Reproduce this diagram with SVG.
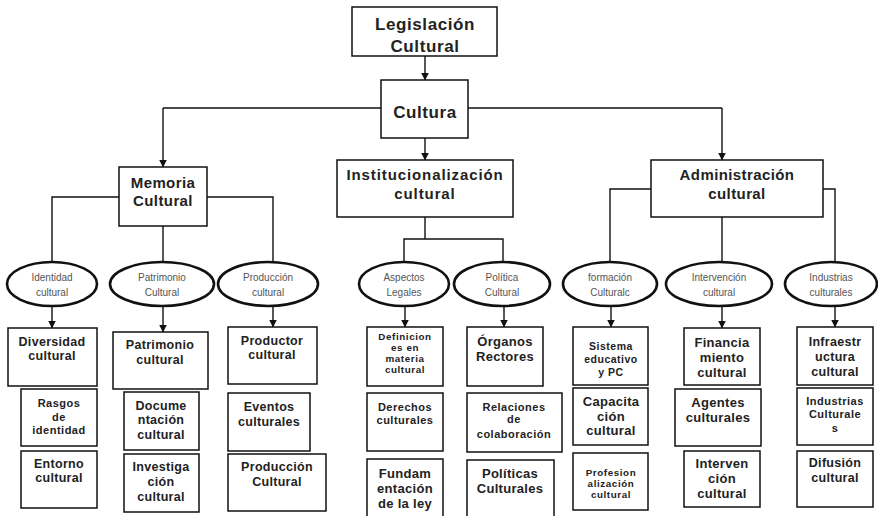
<svg xmlns="http://www.w3.org/2000/svg" width="878" height="516" viewBox="0 0 878 516">
<defs>
<marker id="ah" markerUnits="userSpaceOnUse" markerWidth="8" markerHeight="9" refX="7.5" refY="4" orient="auto">
<path d="M0,0 L8,4 L0,8 Z" fill="#111"/>
</marker>
<style>
.bx{fill:#fff;stroke:#111;stroke-width:1.5}
.el{fill:#fff;stroke:#111;stroke-width:2.6}
.cn{fill:none;stroke:#111;stroke-width:1.4}
.ar{fill:none;stroke:#111;stroke-width:1.4;marker-end:url(#ah)}
text{font-family:"Liberation Sans",Arial,sans-serif;text-anchor:middle;fill:#222}
.t1{font-size:17px;font-weight:bold;letter-spacing:0.6px}
.t2{font-size:15px;font-weight:bold;letter-spacing:0.4px}
.t2w{font-size:15px;font-weight:bold;letter-spacing:0.9px}
.e{font-size:10px;fill:#555}
.b{font-size:12.5px;font-weight:bold;letter-spacing:0.3px}
.s{font-size:11px;font-weight:bold;letter-spacing:0.5px}
.xs{font-size:10.5px;font-weight:bold;letter-spacing:0.5px}
.xxs{font-size:9.8px;font-weight:bold;letter-spacing:0.6px}
.m{font-size:13px;font-weight:bold;letter-spacing:0.3px}
</style>
</defs>
<rect width="878" height="516" fill="#fff"/>
<g id="connectors">
<path class="ar" d="M425,56 V80"/>
<path class="cn" d="M163,108 H381 M468,108 H722"/>
<path class="ar" d="M163,108 V167"/>
<path class="ar" d="M722,108 V160"/>
<path class="ar" d="M425,138 V160"/>
<path class="cn" d="M119,197 H52 V262 M207,197 H273 V262 M163,226 V262"/>
<path class="cn" d="M425,217 V239 M404,262 V239 H503 V262"/>
<path class="cn" d="M651,189 H610 V262 M823,189 H835 V262 M722,217 V262"/>
<path class="ar" d="M52,306 V328"/>
<path class="ar" d="M163,306 V332"/>
<path class="ar" d="M273,306 V327"/>
<path class="ar" d="M405,306 V327"/>
<path class="ar" d="M504,306 V327"/>
<path class="ar" d="M611,306 V327"/>
<path class="ar" d="M722,306 V328"/>
<path class="ar" d="M835,306 V327"/>
</g>
<g id="legislacion"><rect class="bx" x="352" y="7" width="145" height="49"/><text class="t1" x="425" y="30">Legislación</text><text class="t1" x="425" y="52">Cultural</text></g>
<g id="cultura"><rect class="bx" x="381" y="80" width="87" height="58"/><text class="t1" x="425" y="118">Cultura</text></g>
<g id="memoria"><rect class="bx" x="119" y="167" width="88" height="59"/><text class="t2" x="163" y="188">Memoria</text><text class="t2" x="163" y="206">Cultural</text></g>
<g id="institucionalizacion"><rect class="bx" x="337" y="160" width="176" height="57"/><text class="t2w" x="425" y="180">Institucionalización</text><text class="t2w" x="425" y="199">cultural</text></g>
<g id="administracion"><rect class="bx" x="651" y="160" width="172" height="57"/><text class="t2" x="737" y="180">Administración</text><text class="t2" x="737" y="199">cultural</text></g>

<g id="e-identidad"><ellipse class="el" cx="52" cy="284" rx="45" ry="22"/><text class="e" x="52" y="280.5">Identidad</text><text class="e" x="52" y="295.5">cultural</text></g>
<g id="e-patrimonio"><ellipse class="el" cx="162" cy="284" rx="52" ry="22"/><text class="e" x="162" y="280.5">Patrimonio</text><text class="e" x="162" y="295.5">Cultural</text></g>
<g id="e-produccion"><ellipse class="el" cx="268" cy="284" rx="50" ry="22"/><text class="e" x="268" y="280.5">Producción</text><text class="e" x="268" y="295.5">cultural</text></g>
<g id="e-aspectos"><ellipse class="el" cx="404" cy="284" rx="45" ry="22"/><text class="e" x="404" y="280.5">Aspectos</text><text class="e" x="404" y="295.5">Legales</text></g>
<g id="e-politica"><ellipse class="el" cx="502" cy="284" rx="48" ry="22"/><text class="e" x="502" y="280.5">Política</text><text class="e" x="502" y="295.5">Cultural</text></g>
<g id="e-formacion"><ellipse class="el" cx="610" cy="284" rx="47" ry="22"/><text class="e" x="610" y="280.5">formación</text><text class="e" x="610" y="295.5">Culturalc</text></g>
<g id="e-intervencion"><ellipse class="el" cx="719" cy="284" rx="53" ry="22"/><text class="e" x="719" y="280.5">Intervención</text><text class="e" x="719" y="295.5">cultural</text></g>
<g id="e-industrias"><ellipse class="el" cx="831" cy="284" rx="46" ry="22"/><text class="e" x="831" y="280.5">Industrias</text><text class="e" x="831" y="295.5">culturales</text></g>

<g id="diversidad"><rect class="bx" x="8" y="328" width="89" height="58"/><text class="b" x="52" y="346.4">Diversidad</text><text class="b" x="52" y="360.4">cultural</text></g>
<g id="rasgos"><rect class="bx" x="21" y="389" width="76" height="57"/><text class="s" x="59" y="406.9">Rasgos</text><text class="s" x="59" y="420.9">de</text><text class="s" x="59" y="433.9">identidad</text></g>
<g id="entorno"><rect class="bx" x="21" y="451" width="76" height="57"/><text class="b" x="59" y="468.4">Entorno</text><text class="b" x="59" y="482.4">cultural</text></g>

<g id="patrimonio-cultural"><rect class="bx" x="113" y="332" width="95" height="57"/><text class="b" x="160" y="349.4">Patrimonio</text><text class="b" x="160" y="364.4">cultural</text></g>
<g id="documentacion"><rect class="bx" x="124" y="392" width="75" height="58"/><text class="b" x="161" y="410.4">Docume</text><text class="b" x="161" y="424.4">ntación</text><text class="b" x="161" y="439.4">cultural</text></g>
<g id="investigacion"><rect class="bx" x="124" y="454" width="75" height="58"/><text class="b" x="161" y="471.4">Investiga</text><text class="b" x="161" y="486.4">ción</text><text class="b" x="161" y="501.4">cultural</text></g>

<g id="productor"><rect class="bx" x="228" y="327" width="89" height="57"/><text class="b" x="272" y="345.4">Productor</text><text class="b" x="272" y="359.4">cultural</text></g>
<g id="eventos"><rect class="bx" x="228" y="393" width="82" height="58"/><text class="b" x="269" y="411.4">Eventos</text><text class="b" x="269" y="426.4">culturales</text></g>
<g id="produccion-cultural"><rect class="bx" x="228" y="454" width="98" height="57"/><text class="b" x="277" y="471.4">Producción</text><text class="b" x="277" y="486.4">Cultural</text></g>

<g id="definiciones"><rect class="bx" x="367" y="327" width="76" height="59"/><text class="xxs" x="405" y="339.5">Definicion</text><text class="xxs" x="405" y="350.5">es en</text><text class="xxs" x="405" y="361.5">materia</text><text class="xxs" x="405" y="372.5">cultural</text></g>
<g id="derechos"><rect class="bx" x="367" y="393" width="76" height="58"/><text class="s" x="405" y="410.9">Derechos</text><text class="s" x="405" y="423.9">culturales</text></g>
<g id="fundamentacion"><rect class="bx" x="367" y="459" width="76" height="62"/><text class="m" x="405" y="477.6">Fundam</text><text class="m" x="405" y="492.6">entación</text><text class="m" x="405" y="507.6">de la ley</text></g>

<g id="organos"><rect class="bx" x="467" y="327" width="76" height="59"/><text class="m" x="505" y="345.6">Órganos</text><text class="m" x="505" y="360.6">Rectores</text></g>
<g id="relaciones"><rect class="bx" x="467" y="393" width="95" height="59"/><text class="s" x="514" y="410.9">Relaciones</text><text class="s" x="514" y="422.9">de</text><text class="s" x="514" y="437.9">colaboración</text></g>
<g id="politicas"><rect class="bx" x="467" y="460" width="87" height="62"/><text class="m" x="510" y="477.6">Políticas</text><text class="m" x="510" y="492.6">Culturales</text></g>

<g id="sistema"><rect class="bx" x="573" y="327" width="75" height="58"/><text class="xs" x="611" y="349.7">Sistema</text><text class="xs" x="611" y="362.7">educativo</text><text class="xs" x="611" y="375.7">y PC</text></g>
<g id="capacitacion"><rect class="bx" x="573" y="388" width="75" height="57"/><text class="m" x="611" y="405.6">Capacita</text><text class="m" x="611" y="420.6">ción</text><text class="m" x="611" y="434.6">cultural</text></g>
<g id="profesionalizacion"><rect class="bx" x="573" y="453" width="75" height="57"/><text class="xxs" x="611" y="475.5">Profesion</text><text class="xxs" x="611" y="486.5">alización</text><text class="xxs" x="611" y="497.5">cultural</text></g>

<g id="financiamiento"><rect class="bx" x="684" y="328" width="76" height="57"/><text class="m" x="722" y="346.6">Financia</text><text class="m" x="722" y="361.6">miento</text><text class="m" x="722" y="376.6">cultural</text></g>
<g id="agentes"><rect class="bx" x="675" y="389" width="86" height="57"/><text class="m" x="718" y="406.6">Agentes</text><text class="m" x="718" y="421.6">culturales</text></g>
<g id="intervencion-cultural"><rect class="bx" x="684" y="451" width="76" height="56"/><text class="m" x="722" y="467.6">Interven</text><text class="m" x="722" y="482.6">ción</text><text class="m" x="722" y="497.6">cultural</text></g>

<g id="infraestructura"><rect class="bx" x="797" y="327" width="76" height="58"/><text class="b" x="835" y="346.4">Infraestr</text><text class="b" x="835" y="361.4">uctura</text><text class="b" x="835" y="376.4">cultural</text></g>
<g id="industrias-culturales"><rect class="bx" x="797" y="388" width="76" height="57"/><text class="s" x="835" y="404.9">Industrias</text><text class="s" x="835" y="417.9">Culturale</text><text class="s" x="835" y="431.9">s</text></g>
<g id="difusion"><rect class="bx" x="797" y="451" width="76" height="56"/><text class="b" x="835" y="467.4">Difusión</text><text class="b" x="835" y="482.4">cultural</text></g>
</svg>
